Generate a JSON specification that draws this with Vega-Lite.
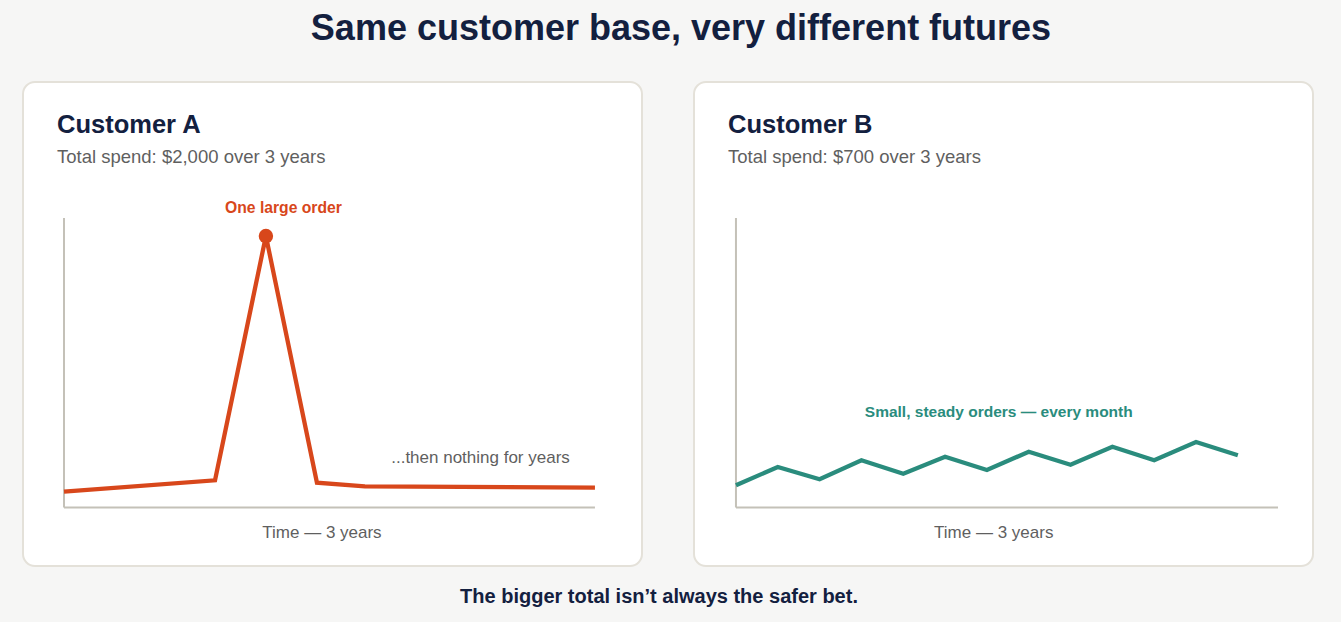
{
  "$schema": "https://vega.github.io/schema/vega-lite/v6.json",
  "background": "#f6f6f5",
  "padding": {"left": 22, "top": 11, "right": 27, "bottom": 15},
  "config": {"font": "Liberation Sans"},
  "title": {
    "text": "Same customer base, very different futures",
    "fontSize": 36, "fontWeight": "bold", "color": "#13203f",
    "anchor": "middle", "frame": "bounds", "offset": 33, "dx": 13, "baseline": "top"
  },
  "vconcat": [
    {
      "title": {
        "text": "The bigger total isn’t always the safer bet.",
        "orient": "bottom", "fontSize": 20, "fontWeight": "bold", "color": "#13203f",
        "anchor": "middle", "frame": "bounds", "offset": 20, "dx": -9, "baseline": "top"
      },
      "spacing": 50,
      "hconcat": [
        {
          "width": 619, "height": 484,
          "view": {"fill": "#ffffff", "stroke": "#e4e1d9", "strokeWidth": 2, "cornerRadius": 12},
          "title": {
            "text": "Customer A", "subtitle": "Total spend: $2,000 over 3 years",
            "anchor": "start", "frame": "group", "dx": 34, "offset": -84,
            "fontSize": 25.5, "fontWeight": "bold", "color": "#13203f", "baseline": "top",
            "subtitleFontSize": 18.5, "subtitleColor": "#5f5f5f", "subtitlePadding": 9
          },
          "layer": [
            {
              "data": {"values": [{"axis": "time"}]},
              "mark": {"type": "rule", "color": "#c4c1b8", "strokeWidth": 2},
              "encoding": {
                "x": {"datum": 0, "type": "quantitative", "scale": {"domain": [-2.78, 39.19], "nice": false, "zero": false}, "axis": null},
                "x2": {"datum": 36},
                "y": {"datum": 0, "type": "quantitative", "scale": {"domain": [-20.21, 146.98], "nice": false, "zero": false}, "axis": null}
              }
            },
            {
              "data": {"values": [{"axis": "spend"}]},
              "mark": {"type": "rule", "color": "#c4c1b8", "strokeWidth": 2},
              "encoding": {
                "x": {"datum": 0, "type": "quantitative"},
                "y": {"datum": 0, "type": "quantitative"},
                "y2": {"datum": 100}
              }
            },
            {
              "data": {"values": [
                {"month": 0, "spend": 5.46},
                {"month": 10.24, "spend": 9.40},
                {"month": 13.69, "spend": 93.78},
                {"month": 17.15, "spend": 8.57},
                {"month": 20.4, "spend": 7.32},
                {"month": 36, "spend": 6.84}
              ]},
              "layer": [
                {
                  "mark": {"type": "line", "color": "#d8471b", "strokeWidth": 4.3, "strokeJoin": "miter"},
                  "encoding": {
                    "x": {"field": "month", "type": "quantitative"},
                    "y": {"field": "spend", "type": "quantitative"}
                  }
                },
                {
                  "transform": [{"filter": "datum.spend > 50"}],
                  "mark": {"type": "point", "filled": true, "opacity": 1, "color": "#d8471b", "size": 210},
                  "encoding": {
                    "x": {"field": "month", "type": "quantitative"},
                    "y": {"field": "spend", "type": "quantitative"}
                  }
                }
              ]
            },
            {
              "data": {"values": [{"month": 14.88, "spend": 101.7, "label": "One large order"}]},
              "mark": {"type": "text", "align": "center", "baseline": "alphabetic", "fontSize": 15.7, "fontWeight": "bold", "color": "#d8471b"},
              "encoding": {
                "x": {"field": "month", "type": "quantitative"},
                "y": {"field": "spend", "type": "quantitative"},
                "text": {"field": "label"}
              }
            },
            {
              "data": {"values": [{"month": 28.24, "spend": 15.27, "label": "...then nothing for years"}]},
              "mark": {"type": "text", "align": "center", "baseline": "alphabetic", "fontSize": 17, "color": "#5f5f5f"},
              "encoding": {
                "x": {"field": "month", "type": "quantitative"},
                "y": {"field": "spend", "type": "quantitative"},
                "text": {"field": "label"}
              }
            },
            {
              "data": {"values": [{"month": 17.49, "spend": -10.6, "label": "Time — 3 years"}]},
              "mark": {"type": "text", "align": "center", "baseline": "alphabetic", "fontSize": 17, "color": "#5f5f5f"},
              "encoding": {
                "x": {"field": "month", "type": "quantitative"},
                "y": {"field": "spend", "type": "quantitative"},
                "text": {"field": "label"}
              }
            }
          ]
        },
        {
          "width": 619, "height": 484,
          "view": {"fill": "#ffffff", "stroke": "#e4e1d9", "strokeWidth": 2, "cornerRadius": 12},
          "title": {
            "text": "Customer B", "subtitle": "Total spend: $700 over 3 years",
            "anchor": "start", "frame": "group", "dx": 34, "offset": -84,
            "fontSize": 25.5, "fontWeight": "bold", "color": "#13203f", "baseline": "top",
            "subtitleFontSize": 18.5, "subtitleColor": "#5f5f5f", "subtitlePadding": 9
          },
          "layer": [
            {
              "data": {"values": [{"axis": "time"}]},
              "mark": {"type": "rule", "color": "#c4c1b8", "strokeWidth": 2},
              "encoding": {
                "x": {"datum": 0, "type": "quantitative", "scale": {"domain": [-3.01, 41.39], "nice": false, "zero": false}, "axis": null},
                "x2": {"datum": 38.88},
                "y": {"datum": 0, "type": "quantitative", "scale": {"domain": [-20.21, 146.98], "nice": false, "zero": false}, "axis": null}
              }
            },
            {
              "data": {"values": [{"axis": "spend"}]},
              "mark": {"type": "rule", "color": "#c4c1b8", "strokeWidth": 2},
              "encoding": {
                "x": {"datum": 0, "type": "quantitative"},
                "y": {"datum": 0, "type": "quantitative"},
                "y2": {"datum": 100}
              }
            },
            {
              "data": {"values": [
                {"month": 0, "spend": 7.67},
                {"month": 3, "spend": 13.99},
                {"month": 6, "spend": 9.74},
                {"month": 9, "spend": 16.30},
                {"month": 12, "spend": 11.68},
                {"month": 15, "spend": 17.55},
                {"month": 18, "spend": 12.95},
                {"month": 21, "spend": 19.27},
                {"month": 24, "spend": 14.78},
                {"month": 27, "spend": 21.0},
                {"month": 30, "spend": 16.30},
                {"month": 33, "spend": 22.63},
                {"month": 36, "spend": 18.03}
              ]},
              "mark": {"type": "line", "color": "#2a8c7d", "strokeWidth": 4.3, "strokeJoin": "miter"},
              "encoding": {
                "x": {"field": "month", "type": "quantitative"},
                "y": {"field": "spend", "type": "quantitative"}
              }
            },
            {
              "data": {"values": [{"month": 18.85, "spend": 31.26, "label": "Small, steady orders — every month"}]},
              "mark": {"type": "text", "align": "center", "baseline": "alphabetic", "fontSize": 15.5, "fontWeight": "bold", "color": "#2a8c7d"},
              "encoding": {
                "x": {"field": "month", "type": "quantitative"},
                "y": {"field": "spend", "type": "quantitative"},
                "text": {"field": "label"}
              }
            },
            {
              "data": {"values": [{"month": 18.49, "spend": -10.6, "label": "Time — 3 years"}]},
              "mark": {"type": "text", "align": "center", "baseline": "alphabetic", "fontSize": 17, "color": "#5f5f5f"},
              "encoding": {
                "x": {"field": "month", "type": "quantitative"},
                "y": {"field": "spend", "type": "quantitative"},
                "text": {"field": "label"}
              }
            }
          ]
        }
      ]
    }
  ]
}
